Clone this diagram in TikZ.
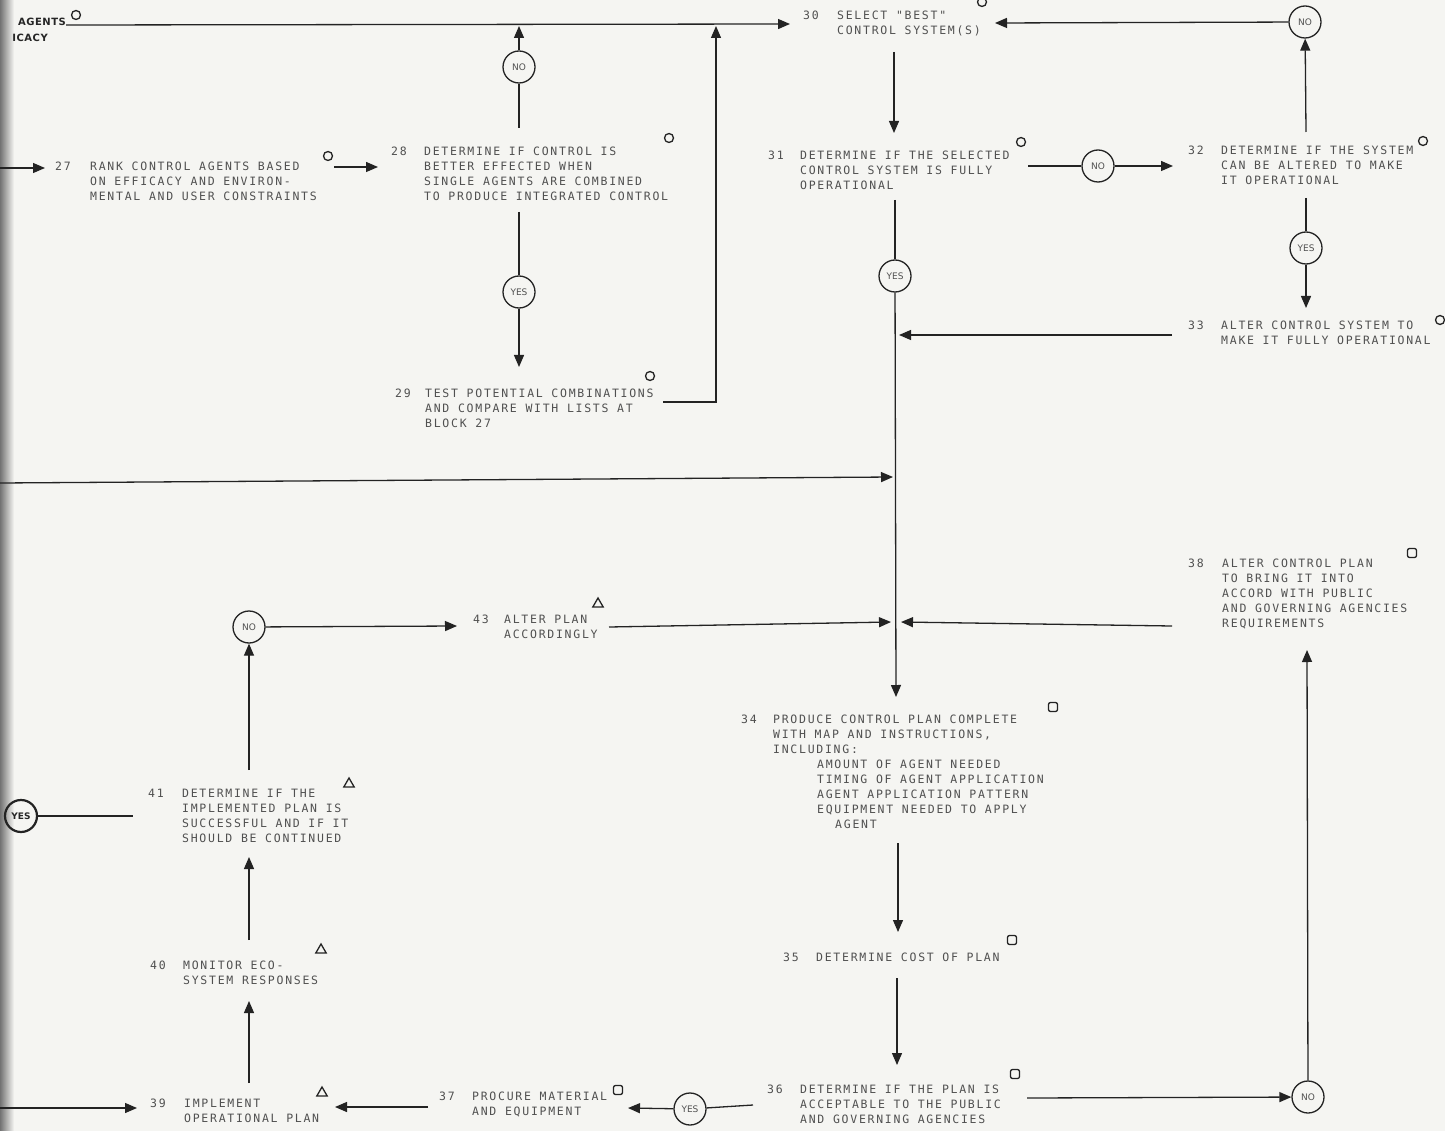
\documentclass[tikz,border=0pt]{standalone}
\usepackage{fontspec}
\usetikzlibrary{arrows.meta,shapes.geometric}
\newfontfamily\twfont[LetterSpace=15]{DejaVu Sans Mono}
\newfontfamily\cfont{DejaVu Sans}
\newfontfamily\bsfont[LetterSpace=5]{DejaVu Sans}
\definecolor{bg}{RGB}{245,245,242}
\definecolor{ink}{RGB}{35,35,35}
\definecolor{txt}{RGB}{80,80,80}
\newcommand\tp{\rule{0pt}{9pt}}
\begin{document}
\begin{tikzpicture}[x=1pt,y=-1pt,
  blk/.style={anchor=north west, inner sep=0pt, align=left, text=txt,
    font=\twfont\fontsize{11.5}{15}\selectfont},
  dec/.style={circle, draw=ink, line width=1.3pt, minimum size=32pt, inner sep=0pt,
    text=txt, font=\cfont\fontsize{9}{10}\selectfont},
  ln/.style={line width=1.3pt, draw=ink},
  arr/.style={ln, -{Triangle[length=12pt,width=10pt]}},
  mo/.style={circle, draw=ink, line width=1.3pt, minimum size=9pt, inner sep=0pt},
  mt/.style={regular polygon, regular polygon sides=3, draw=ink, line width=1.3pt, minimum size=12pt, inner sep=0pt},
  ms/.style={rectangle, rounded corners=2pt, draw=ink, line width=1.3pt, minimum size=9pt, inner sep=0pt},
  bold/.style={anchor=east, inner sep=0pt, text=black!85, font=\bsfont\bfseries\fontsize{10}{11}\selectfont}
]
\useasboundingbox (0,0) rectangle (1445,1131);
\fill[bg] (0,0) rectangle (1445,1131);
\shade[left color=black!55, right color=bg] (0,0) rectangle (14,1131);

% ---- left cut-off texts
\node[bold] (ag) at (66,22) {AGENTS};
\node[bold] (ic) at (48,38) {ICACY};
\node[mo] (m0) at (76,15) {};

% ---- text blocks
\node[blk] (n27) at (55,161.2) {\tp 27};
\node[blk] (t27) at (90,161.2) {\tp RANK CONTROL AGENTS BASED\\ON EFFICACY AND ENVIRON-\\MENTAL AND USER CONSTRAINTS};
\node[blk] (n28) at (391,146.2) {\tp 28};
\node[blk] (t28) at (424,146.2) {\tp DETERMINE IF CONTROL IS\\BETTER EFFECTED WHEN\\SINGLE AGENTS ARE COMBINED\\TO PRODUCE INTEGRATED CONTROL};
\node[blk] (n29) at (395,388.2) {\tp 29};
\node[blk] (t29) at (425,388.2) {\tp TEST POTENTIAL COMBINATIONS\\AND COMPARE WITH LISTS AT\\BLOCK 27};
\node[blk] (n30) at (803,10.2) {\tp 30};
\node[blk] (t30) at (837,10.2) {\tp SELECT "BEST"\\CONTROL SYSTEM(S)};
\node[blk] (n31) at (768,150.2) {\tp 31};
\node[blk] (t31) at (800,150.2) {\tp DETERMINE IF THE SELECTED\\CONTROL SYSTEM IS FULLY\\OPERATIONAL};
\node[blk] (n32) at (1188,145.2) {\tp 32};
\node[blk] (t32) at (1221,145.2) {\tp DETERMINE IF THE SYSTEM\\CAN BE ALTERED TO MAKE\\IT OPERATIONAL};
\node[blk] (n33) at (1188,320.2) {\tp 33};
\node[blk] (t33) at (1221,320.2) {\tp ALTER CONTROL SYSTEM TO\\MAKE IT FULLY OPERATIONAL};
\node[blk] (n34) at (741,714.2) {\tp 34};
\node[blk] (t34) at (773,714.2) {\tp PRODUCE CONTROL PLAN COMPLETE\\WITH MAP AND INSTRUCTIONS,\\INCLUDING:\\\hspace*{44pt}AMOUNT OF AGENT NEEDED\\\hspace*{44pt}TIMING OF AGENT APPLICATION\\\hspace*{44pt}AGENT APPLICATION PATTERN\\\hspace*{44pt}EQUIPMENT NEEDED TO APPLY\\\hspace*{62pt}AGENT};
\node[blk] (n35) at (783,952.2) {\tp 35};
\node[blk] (t35) at (816,952.2) {\tp DETERMINE COST OF PLAN};
\node[blk] (n36) at (767,1084.2) {\tp 36};
\node[blk] (t36) at (800,1084.2) {\tp DETERMINE IF THE PLAN IS\\ACCEPTABLE TO THE PUBLIC\\AND GOVERNING AGENCIES};
\node[blk] (n37) at (439,1091.2) {\tp 37};
\node[blk] (t37) at (472,1091.2) {\tp PROCURE MATERIAL\\AND EQUIPMENT};
\node[blk] (n38) at (1188,558.2) {\tp 38};
\node[blk] (t38) at (1222,558.2) {\tp ALTER CONTROL PLAN\\TO BRING IT INTO\\ACCORD WITH PUBLIC\\AND GOVERNING AGENCIES\\REQUIREMENTS};
\node[blk] (n39) at (150,1098.2) {\tp 39};
\node[blk] (t39) at (184,1098.2) {\tp IMPLEMENT\\OPERATIONAL PLAN};
\node[blk] (n40) at (150,960.2) {\tp 40};
\node[blk] (t40) at (183,960.2) {\tp MONITOR ECO-\\SYSTEM RESPONSES};
\node[blk] (n41) at (148,788.2) {\tp 41};
\node[blk] (t41) at (182,788.2) {\tp DETERMINE IF THE\\IMPLEMENTED PLAN IS\\SUCCESSFUL AND IF IT\\SHOULD BE CONTINUED};
\node[blk] (n43) at (473,614.2) {\tp 43};
\node[blk] (t43) at (504,614.2) {\tp ALTER PLAN\\ACCORDINGLY};

% ---- marks
\node[mo] (m27) at (328,156) {};
\node[mo] (m28) at (669,138) {};
\node[mo] (m29) at (650,376) {};
\node[mo] (m30) at (982,2) {};
\node[mo] (m31) at (1021,142) {};
\node[mo] (m32) at (1423,141) {};
\node[mo] (m33) at (1440,320) {};
\node[mt] (m43) at (598,604) {};
\node[mt] (m41) at (349,784) {};
\node[mt] (m40) at (321,950) {};
\node[mt] (m39) at (322,1093) {};
\node[ms] (m34) at (1053,707) {};
\node[ms] (m35) at (1012,940) {};
\node[ms] (m36) at (1015,1074) {};
\node[ms] (m37) at (618,1090) {};
\node[ms] (m38) at (1412,553) {};

% ---- decision circles
\node[dec] (no28) at (519,67) {NO};
\node[dec] (yes28) at (519,292) {YES};
\node[dec] (no31) at (1098,166) {NO};
\node[dec] (no32) at (1305,22) {NO};
\node[dec] (yes32) at (1306,248) {YES};
\node[dec] (yes31) at (895,276) {YES};
\node[dec] (no41) at (249,627) {NO};
\node[dec, line width=2.2pt, text=black!85, font=\cfont\bfseries\fontsize{9}{10}\selectfont] (yes41) at (21,816) {YES};
\node[dec] (no36) at (1308,1097) {NO};
\node[dec] (yes36) at (690,1109) {YES};

% ---- coordinates
\coordinate (tl0) at (66,25);
\coordinate (tl1) at (790,24);
\coordinate (top28) at (519,26);
\coordinate (u28) at (519,128);
\coordinate (d28) at (519,212);
\coordinate (h29) at (519,367);
\coordinate (r29) at (663,402);
\coordinate (c29) at (716,402);
\coordinate (top29) at (716,26);
\coordinate (in30) at (995,23);
\coordinate (d30a) at (894,52);
\coordinate (d30b) at (894,133);
\coordinate (r31) at (1028,166);
\coordinate (in32) at (1173,166);
\coordinate (u32) at (1306,132);
\coordinate (d32) at (1306,198);
\coordinate (in33) at (1306,308);
\coordinate (l33) at (1172,335);
\coordinate (j33) at (899,335);
\coordinate (b31) at (895,200);
\coordinate (in34) at (896,697);
\coordinate (lft) at (0,483);
\coordinate (jl) at (893,477);
\coordinate (in43) at (457,626);
\coordinate (r43) at (609,627);
\coordinate (j43) at (891,622);
\coordinate (l38) at (1172,626);
\coordinate (j38) at (901,622);
\coordinate (b34) at (898,843);
\coordinate (in35) at (898,932);
\coordinate (b35) at (897,978);
\coordinate (in36) at (897,1065);
\coordinate (r36) at (1027,1098);
\coordinate (in38) at (1307,650);
\coordinate (l36) at (753,1105);
\coordinate (in37) at (628,1108);
\coordinate (l37) at (428,1107);
\coordinate (in39r) at (335,1107);
\coordinate (lft39) at (0,1108);
\coordinate (in39) at (137,1108);
\coordinate (u39) at (249,1083);
\coordinate (in40) at (249,1001);
\coordinate (u40) at (249,940);
\coordinate (in41) at (249,857);
\coordinate (u41) at (249,770);
\coordinate (lft41) at (133,816);
\coordinate (lft27) at (0,168);
\coordinate (in27) at (45,168);
\coordinate (r27) at (334,167);
\coordinate (in28) at (378,167);

% ---- connectors
\draw[arr] (tl0) -- (tl1);
\draw[ln] (u28) -- (no28);
\draw[arr] (no28) -- (top28);
\draw[ln] (d28) -- (yes28);
\draw[arr] (yes28) -- (h29);
\draw[arr] (r29) -- (c29) -- (top29);
\draw[arr] (no32) -- (in30);
\draw[arr] (d30a) -- (d30b);
\draw[ln] (r31) -- (no31);
\draw[arr] (no31) -- (in32);
\draw[arr] (u32) -- (no32);
\draw[ln] (d32) -- (yes32);
\draw[arr] (yes32) -- (in33);
\draw[arr] (l33) -- (j33);
\draw[ln] (b31) -- (yes31);
\draw[arr] (yes31) -- (in34);
\draw[arr] (lft) -- (jl);
\draw[arr] (no41) -- (in43);
\draw[arr] (r43) -- (j43);
\draw[arr] (l38) -- (j38);
\draw[arr] (b34) -- (in35);
\draw[arr] (b35) -- (in36);
\draw[arr] (r36) -- (no36);
\draw[arr] (no36) -- (in38);
\draw[ln] (l36) -- (yes36);
\draw[arr] (yes36) -- (in37);
\draw[arr] (l37) -- (in39r);
\draw[arr] (lft39) -- (in39);
\draw[arr] (u39) -- (in40);
\draw[arr] (u40) -- (in41);
\draw[arr] (u41) -- (no41);
\draw[ln] (yes41) -- (lft41);
\draw[arr] (lft27) -- (in27);
\draw[arr] (r27) -- (in28);
\end{tikzpicture}
\end{document}
